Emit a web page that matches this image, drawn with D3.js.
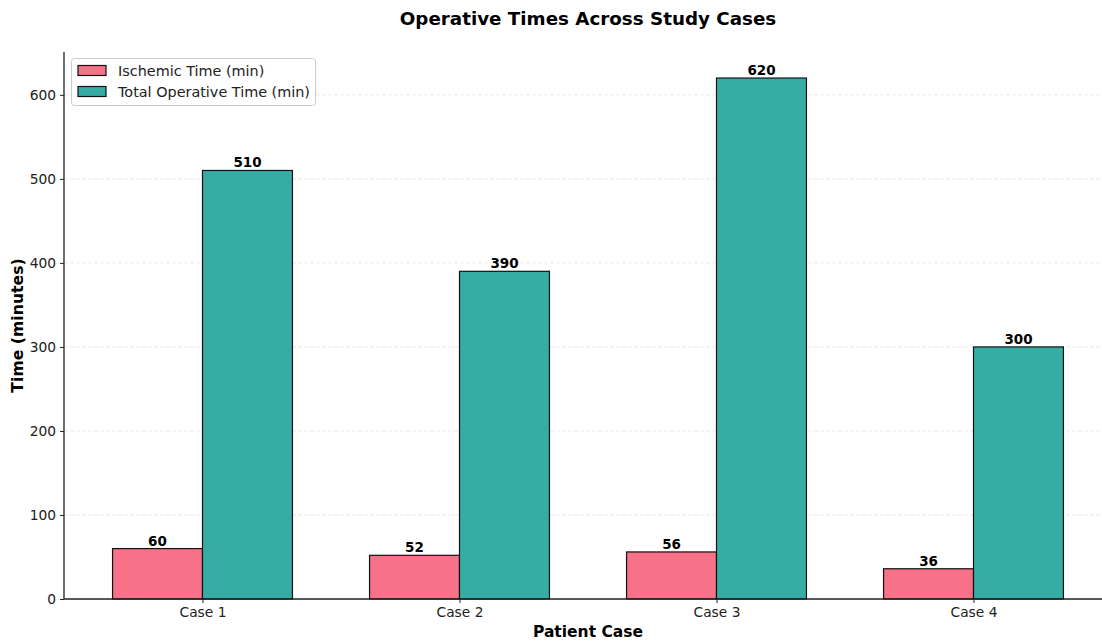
<!DOCTYPE html>
<html>
<head>
<meta charset="utf-8">
<script src="https://cdn.jsdelivr.net/npm/d3@7"></script>
<style>
  body { margin: 0; background: #fff; }
  svg { display: block; font-family: "DejaVu Sans", sans-serif; }
</style>
</head>
<body>
<svg id="chart" width="1102" height="641"></svg>
<script>
const cases = ["Case 1", "Case 2", "Case 3", "Case 4"];
const ischemicTime = [60, 52, 56, 36];
const totalOperativeTime = [510, 390, 620, 300];
const yTicks = [0, 100, 200, 300, 400, 500, 600];
const seriesNames = ["Ischemic Time (min)", "Total Operative Time (min)"];
const seriesColors = ["#f77189", "#36ada4"];

const svg = d3.select("#chart");
const plotLeft = 64, plotBottom = 599, plotTop = 52, plotRight = 1111;
const barW = 0.35;

const x = d3.scaleLinear().domain([-0.535, 3.535]).range([plotLeft + 1, plotRight]);
const y = d3.scaleLinear().domain([0, 651]).range([plotBottom, plotTop]);

// grid
svg.append("g").selectAll("line").data(yTicks).join("line")
  .attr("x1", plotLeft).attr("x2", plotRight)
  .attr("y1", d => y(d)).attr("y2", d => y(d))
  .attr("stroke", "#b0b0b0").attr("stroke-opacity", 0.35)
  .attr("stroke-dasharray", "4,2").attr("stroke-width", 0.8);

const series = [ischemicTime, totalOperativeTime];
series.forEach((vals, s) => {
  const off = s === 0 ? -barW : 0;
  const g = svg.append("g");
  g.selectAll("rect").data(vals).join("rect")
    .attr("x", (d, i) => x(i + off))
    .attr("width", x(barW) - x(0))
    .attr("y", d => y(d))
    .attr("height", d => y(0) - y(d))
    .attr("fill", seriesColors[s])
    .attr("stroke", "#111").attr("stroke-width", 1.2);
  g.selectAll("text").data(vals).join("text")
    .attr("x", (d, i) => x(i + off + barW / 2))
    .attr("y", d => y(d) - 3)
    .attr("text-anchor", "middle")
    .attr("font-size", 13.5).attr("font-weight", "bold")
    .attr("fill", "#000")
    .text(d => d);
});

// axes
const yAxis = d3.axisLeft(y).tickValues(yTicks).tickSize(4).tickPadding(4);
const yg = svg.append("g").attr("transform", `translate(${plotLeft},0)`).call(yAxis);
yg.select(".domain").attr("stroke", "#222").attr("stroke-width", 1.3).attr("d", `M0,${plotTop}V${plotBottom}`);
yg.selectAll(".tick line").attr("stroke", "#222");
yg.selectAll(".tick text").attr("font-size", 13.8).attr("fill", "#222").attr("font-family", "DejaVu Sans");

const xAxis = d3.axisBottom(x).tickValues(d3.range(cases.length)).tickFormat(i => cases[i]).tickSize(4).tickPadding(4);
const xg = svg.append("g").attr("transform", `translate(0,${plotBottom})`).call(xAxis);
xg.select(".domain").attr("stroke", "#222").attr("stroke-width", 1.3).attr("d", `M${plotLeft},0H${plotRight}`);
xg.selectAll(".tick line").attr("stroke", "#222");
xg.selectAll(".tick text").attr("font-size", 13.8).attr("fill", "#222").attr("font-family", "DejaVu Sans");

// titles
svg.append("text").attr("x", 588).attr("y", 25).attr("text-anchor", "middle")
  .attr("font-size", 18.3).attr("font-weight", "bold").text("Operative Times Across Study Cases");
svg.append("text").attr("x", 588).attr("y", 637).attr("text-anchor", "middle")
  .attr("font-size", 15.5).attr("font-weight", "bold").text("Patient Case");
svg.append("text").attr("transform", `translate(23,${(plotTop + plotBottom) / 2}) rotate(-90)`)
  .attr("text-anchor", "middle").attr("font-size", 15.7).attr("font-weight", "bold").text("Time (minutes)");

// legend
const lg = svg.append("g");
lg.append("rect").attr("x", 71.5).attr("y", 58.5).attr("width", 244).attr("height", 47).attr("rx", 3)
  .attr("fill", "#fff").attr("fill-opacity", 0.8).attr("stroke", "#ccc").attr("stroke-width", 1);
seriesNames.forEach((n, i) => {
  lg.append("rect").attr("x", 78).attr("y", 65.5 + i * 21).attr("width", 28).attr("height", 10)
    .attr("fill", seriesColors[i]).attr("stroke", "#111").attr("stroke-width", 1.2);
  lg.append("text").attr("x", 118).attr("y", 76 + i * 21).attr("font-size", 14.4).attr("fill", "#222").text(n);
});
</script>
</body>
</html>
